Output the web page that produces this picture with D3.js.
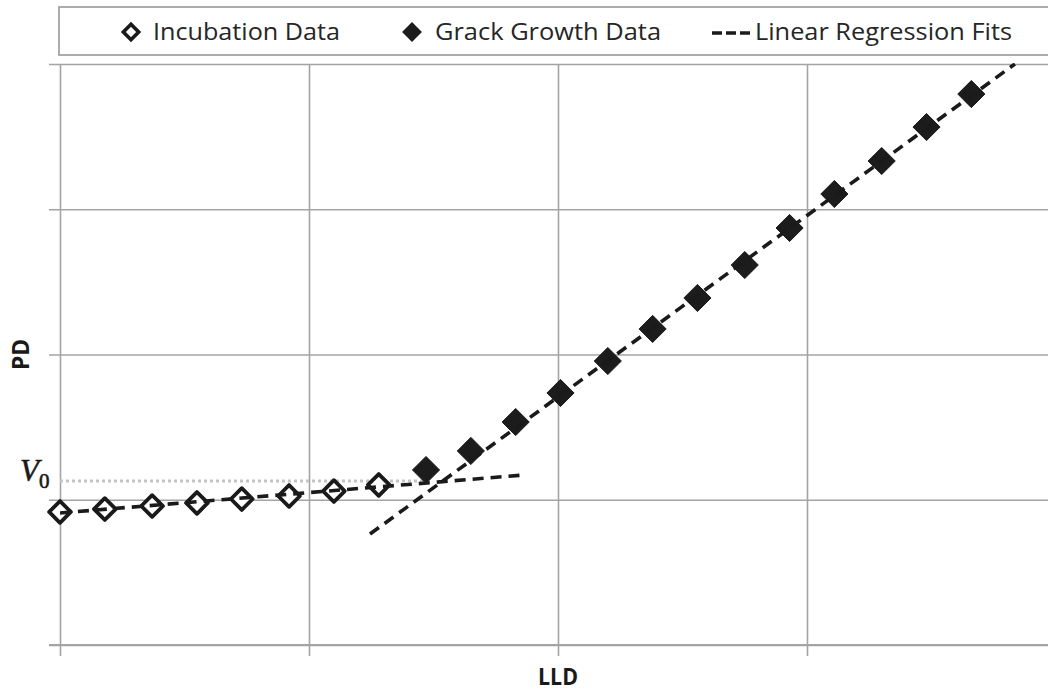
<!DOCTYPE html>
<html>
<head>
<meta charset="utf-8">
<script src="https://cdn.jsdelivr.net/npm/d3@7"></script>
<style>
  html, body { margin: 0; padding: 0; background: #fff; }
  svg { display: block; }
</style>
</head>
<body>
<svg id="chart" width="1048" height="693"></svg>
<script>
// LLD positions of the measurements (arbitrary units, grid step = 1)
const incubationLLD = [0.00, 0.18, 0.37, 0.55, 0.73, 0.92, 1.10, 1.28];
const incubationPD  = [0.916, 0.936, 0.957, 0.978, 1.005, 1.026, 1.060, 1.102];

const growthLLD = [1.47, 1.65, 1.83, 2.01, 2.20, 2.38, 2.56, 2.75, 2.93, 3.11, 3.30, 3.48, 3.66];
const growthPD  = [1.205, 1.336, 1.535, 1.735, 1.955, 2.176, 2.389, 2.616, 2.871, 3.105, 3.332, 3.566, 3.793];

// Linear regression fits, given by their end points [LLD, PD]
const incubationFit = [[0.00, 0.909], [1.86, 1.170]];
const growthFit     = [[1.245, 0.764], [3.835, 4.000]];

// Threshold level V0 (intersection of the two fits)
const v0Level = 1.129;
const v0End = 1.47;

const xTicks = [0, 1, 2, 3, 4];
const yTicks = [0, 1, 2, 3, 4];

const legendLabels = ["Incubation Data", "Grack Growth Data", "Linear Regression Fits"];
const xTitle = "LLD";
const yTitle = "PD";

(function draw() {
  const svg = d3.select("#chart");
  const mLeft = 60, mTop = 64, plotW = 996, plotH = 581;

  const x = d3.scaleLinear().domain([0, 4]).range([mLeft, mLeft + plotW]);
  const y = d3.scaleLinear().domain([0, 4]).range([mTop + plotH, mTop]);

  const gridColor = "#a4a4a4";

  // Grid lines with outside ticks
  const xAxis = d3.axisBottom(x).tickValues(xTicks).tickSize(-(plotH + 11)).tickFormat("");
  svg.append("g")
    .attr("transform", `translate(0,${mTop + plotH + 11})`)
    .call(xAxis)
    .call(g => g.select(".domain").remove())
    .call(g => g.selectAll(".tick line").attr("stroke", gridColor).attr("stroke-width", 1.6));

  const yAxis = d3.axisLeft(y).tickValues(yTicks).tickSize(-(plotW + 11)).tickFormat("");
  svg.append("g")
    .attr("transform", `translate(${mLeft - 11},0)`)
    .call(yAxis)
    .call(g => g.select(".domain").remove())
    .call(g => g.selectAll(".tick line").attr("stroke", gridColor).attr("stroke-width", 1.6));

  // bottom axis line a touch heavier
  svg.append("line")
    .attr("x1", mLeft - 11).attr("x2", 1048)
    .attr("y1", y(0)).attr("y2", y(0))
    .attr("stroke", gridColor).attr("stroke-width", 2.2);

  // Legend frame
  svg.append("rect")
    .attr("x", 59).attr("y", 7).attr("width", 1010).attr("height", 48)
    .attr("fill", "#fff").attr("stroke", gridColor).attr("stroke-width", 1.8);

  svg.append("clipPath").attr("id", "plotclip")
    .append("rect").attr("x", mLeft).attr("y", mTop - 1).attr("width", plotW).attr("height", plotH + 2);

  const plot = svg.append("g").attr("clip-path", "url(#plotclip)");

  // V0 dotted reference line
  plot.append("line")
    .attr("x1", x(0)).attr("x2", x(v0End))
    .attr("y1", y(v0Level)).attr("y2", y(v0Level))
    .attr("stroke", "#c4c4c4").attr("stroke-width", 3)
    .attr("stroke-dasharray", "3,3");

  const diamond = d3.symbol().type(d3.symbolDiamond2);

  const incubation = incubationLLD.map((v, i) => ({ x: v, y: incubationPD[i] }));
  const growth = growthLLD.map((v, i) => ({ x: v, y: growthPD[i] }));

  // Markers (drawn unclipped so edge markers stay whole)
  const marks = svg.append("g");
  marks.selectAll(".inc").data(incubation).join("path")
    .attr("class", "inc")
    .attr("d", diamond.size(300)())
    .attr("transform", d => `translate(${x(d.x)},${y(d.y)})`)
    .attr("fill", "#fff").attr("stroke", "#1a1a1a").attr("stroke-width", 3.8)
    .attr("stroke-linejoin", "round");

  marks.selectAll(".grw").data(growth).join("path")
    .attr("class", "grw")
    .attr("d", diamond.size(470)())
    .attr("transform", d => `translate(${x(d.x)},${y(d.y)})`)
    .attr("fill", "#1c1c1c").attr("stroke", "#1c1c1c").attr("stroke-width", 1)
    .attr("stroke-linejoin", "round");

  // Regression fits drawn over the markers
  const fitLine = d3.line().x(d => x(d[0])).y(d => y(d[1]));
  const fits = svg.append("g").attr("clip-path", "url(#plotclip)");
  [incubationFit, growthFit].forEach(f => {
    fits.append("path")
      .attr("d", fitLine(f))
      .attr("fill", "none").attr("stroke", "#1a1a1a")
      .attr("stroke-width", 3.6).attr("stroke-dasharray", "11,7");
  });

  // V0 label
  const v0 = svg.append("text")
    .attr("x", 20).attr("y", 481)
    .attr("font-family", "Liberation Serif, serif")
    .attr("font-size", 31).attr("fill", "#1a1a1a")
    .attr("stroke", "#1a1a1a").attr("stroke-width", 0.6);
  v0.append("tspan").attr("font-style", "italic").text("V");
  v0.append("tspan").attr("font-size", 21).attr("dy", 7).attr("dx", 0).text("0");

  // Axis titles
  svg.append("text")
    .attr("x", x(2)).attr("y", 685)
    .attr("text-anchor", "middle")
    .attr("font-family", "Open Sans, sans-serif").attr("font-weight", "bold")
    .attr("font-size", 23).attr("fill", "#1a1a1a")
    .attr("textLength", 40).attr("lengthAdjust", "spacingAndGlyphs")
    .text(xTitle);

  svg.append("text")
    .attr("transform", `translate(29,${y(2)}) rotate(-90)`)
    .attr("text-anchor", "middle")
    .attr("font-family", "Open Sans, sans-serif").attr("font-weight", "bold")
    .attr("font-size", 23).attr("fill", "#1a1a1a")
    .attr("textLength", 31).attr("lengthAdjust", "spacingAndGlyphs")
    .text(yTitle);

  // Legend entries
  const ly = 32;

  svg.append("path")
    .attr("d", d3.symbol().type(d3.symbolDiamond2).size(150)())
    .attr("transform", `translate(131,${ly})`)
    .attr("fill", "#fff").attr("stroke", "#1a1a1a").attr("stroke-width", 3.6);

  svg.append("path")
    .attr("d", d3.symbol().type(d3.symbolDiamond2).size(250)())
    .attr("transform", `translate(412,${ly})`)
    .attr("fill", "#1c1c1c");

  svg.append("line")
    .attr("x1", 712).attr("x2", 753).attr("y1", ly + 1).attr("y2", ly + 1)
    .attr("stroke", "#1a1a1a").attr("stroke-width", 3.6).attr("stroke-dasharray", "10,4");

  const legendX = [153, 435, 755];
  const legendW = [187, 226, 257];
  legendLabels.forEach((t, i) => {
    svg.append("text")
      .attr("x", legendX[i]).attr("y", ly + 8)
      .attr("font-family", "Open Sans, sans-serif").attr("font-size", 23)
      .attr("fill", "#262626")
      .attr("textLength", legendW[i]).attr("lengthAdjust", "spacingAndGlyphs")
      .text(t);
  });
})();
</script>
</body>
</html>
